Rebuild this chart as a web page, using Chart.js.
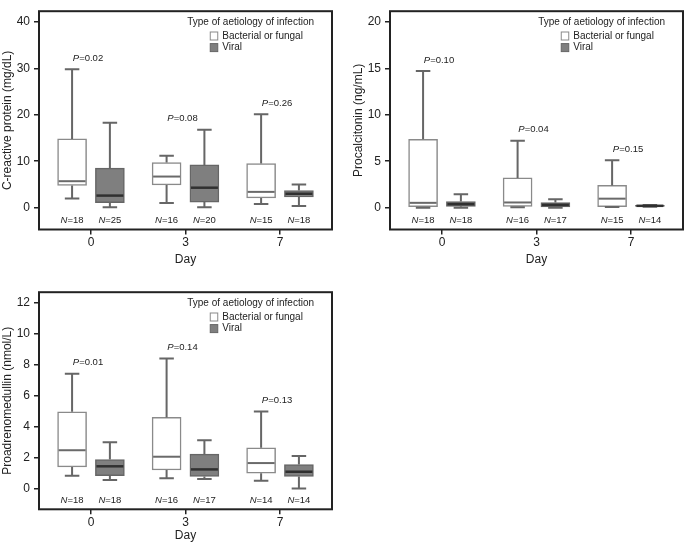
<!DOCTYPE html>
<html>
<head>
<meta charset="utf-8">
<script src="https://cdn.jsdelivr.net/npm/chart.js@4.4.1/dist/chart.umd.min.js"></script>
<style>
    body { margin: 0; background: #fff; }
    canvas { position: absolute; }
</style>
</head>
<body>
<canvas id="crpChart" width="342" height="270" style="left:0;top:0"></canvas>
<canvas id="pctChart" width="334" height="270" style="left:351px;top:0"></canvas>
<canvas id="admChart" width="342" height="265" style="left:0;top:281px"></canvas>
<script>
const days = ['0', '3', '7'];

// each box: [lower whisker, Q1, median, Q3, upper whisker], one per day
const crpBacterial = [[2.0, 4.8, 5.7, 14.8, 29.8], [1.0, 4.9, 6.7, 9.7, 11.2], [0.8, 2.1, 3.4, 9.5, 20.1]];
const crpViral = [[0.1, 1.1, 2.6, 8.5, 18.3], [0.1, 1.2, 4.3, 9.2, 16.8], [0.35, 2.3, 3.0, 3.7, 5.0]];
const crpBacterialN = [18, 16, 15];
const crpViralN = [25, 20, 18];
const crpP = ['0.02', '0.08', '0.26'];
const crpTicks = [0, 10, 20, 30, 40];

const pctBacterial = [[0.0, 0.1, 0.52, 7.36, 14.7], [0.05, 0.14, 0.56, 3.2, 7.2], [0.07, 0.1, 0.97, 2.4, 5.1]];
const pctViral = [[0.0, 0.14, 0.38, 0.66, 1.44], [0.0, 0.08, 0.3, 0.55, 0.9], [0.1, 0.13, 0.2, 0.25, 0.3]];
const pctBacterialN = [18, 16, 15];
const pctViralN = [18, 17, 14];
const pctP = ['0.10', '0.04', '0.15'];
const pctTicks = [0, 5, 10, 15, 20];

const admBacterial = [[0.83, 1.4, 2.48, 4.97, 7.43], [0.66, 1.2, 2.06, 4.6, 8.42], [0.5, 0.99, 1.65, 2.64, 4.99]];
const admViral = [[0.56, 0.83, 1.44, 1.88, 2.99], [0.62, 0.78, 1.24, 2.23, 3.12], [0.0, 0.78, 1.09, 1.55, 2.1]];
const admBacterialN = [18, 16, 14];
const admViralN = [18, 17, 14];
const admP = ['0.01', '0.14', '0.13'];
const admTicks = [0, 2, 4, 6, 8, 10, 12];

const FONT = "'Liberation Sans', Arial, Helvetica, sans-serif";
const TEXT = '#222';

function drawPN(ctx, prefix, rest, cx, cy, size) {
    // italic letter then plain "=value", centred on cx
    ctx.font = `italic ${size}px ${FONT}`;
    const w1 = ctx.measureText(prefix).width;
    ctx.font = `${size}px ${FONT}`;
    const w2 = ctx.measureText(rest).width;
    const left = cx - (w1 + w2) / 2;
    ctx.textAlign = 'left';
    ctx.textBaseline = 'middle';
    ctx.font = `italic ${size}px ${FONT}`;
    ctx.fillText(prefix, left, cy);
    ctx.font = `${size}px ${FONT}`;
    ctx.fillText(rest, left + w1, cy);
}

function makePanel(id, cfg) {
    const groups = [
        { label: 'Bacterial or fungal', stats: cfg.bacterial, n: cfg.bacterialN, offset: -0.2,
          fill: '#ffffff', border: '#8a8a8a', median: '#6a6a6a', medianWidth: 2 },
        { label: 'Viral', stats: cfg.viral, n: cfg.viralN, offset: 0.2,
          fill: '#7f7f7f', border: '#666666', median: '#303030', medianWidth: 2.5 }
    ];

    const extras = {
        id: 'boxExtras',
        afterDatasetsDraw(chart) {
            const { ctx, chartArea } = chart;
            const xs = chart.scales.x;
            const ys = chart.scales.y;
            const half = 29 / 2;
            ctx.save();

            groups.forEach(g => {
                g.stats.forEach((s, i) => {
                    const cx = xs.getPixelForValue(i + g.offset);
                    const [lo, q1, med, q3, hi] = s.map(v => ys.getPixelForValue(v));

                    // whiskers and caps
                    ctx.strokeStyle = '#666';
                    ctx.lineWidth = 2;
                    ctx.beginPath();
                    ctx.moveTo(cx, q3); ctx.lineTo(cx, hi);
                    ctx.moveTo(cx - half / 2, hi); ctx.lineTo(cx + half / 2, hi);
                    ctx.moveTo(cx, q1); ctx.lineTo(cx, lo);
                    ctx.moveTo(cx - half / 2, lo); ctx.lineTo(cx + half / 2, lo);
                    ctx.stroke();

                    // median
                    ctx.strokeStyle = g.median;
                    ctx.lineWidth = g.medianWidth;
                    ctx.beginPath();
                    ctx.moveTo(cx - half + 1, med); ctx.lineTo(cx + half - 1, med);
                    ctx.stroke();

                    // N under each box
                    ctx.fillStyle = TEXT;
                    drawPN(ctx, 'N', '=' + g.n[i], cx, chartArea.bottom - 9, 9.5);
                });
            });

            // P values above each day
            cfg.p.forEach((p, i) => {
                const top = Math.min(ys.getPixelForValue(groups[0].stats[i][4]), ys.getPixelForValue(groups[1].stats[i][4]));
                ctx.fillStyle = TEXT;
                drawPN(ctx, 'P', '=' + p, xs.getPixelForValue(i) - 3, top - 11, 9.5);
            });

            // legend
            const title = 'Type of aetiology of infection';
            ctx.font = `10px ${FONT}`;
            const tw = ctx.measureText(title).width;
            const tx = chartArea.right - 18 - tw;
            ctx.fillStyle = TEXT;
            ctx.textAlign = 'left';
            ctx.textBaseline = 'middle';
            ctx.fillText(title, tx, chartArea.top + 11);
            groups.forEach((g, k) => {
                const y = chartArea.top + 24.8 + k * 11.6;
                ctx.fillStyle = g.fill;
                ctx.fillRect(tx + 23, y - 4, 7.5, 8);
                ctx.strokeStyle = g.border;
                ctx.lineWidth = 1;
                ctx.strokeRect(tx + 23, y - 4, 7.5, 8);
                ctx.fillStyle = TEXT;
                ctx.fillText(g.label, tx + 35, y);
            });

            // frame
            ctx.strokeStyle = '#222';
            ctx.lineWidth = 2;
            ctx.strokeRect(chartArea.left, chartArea.top, chartArea.right - chartArea.left, chartArea.bottom - chartArea.top);
            ctx.restore();
        }
    };

    const datasets = groups.map(g => ({
        label: g.label,
        data: g.stats.map((s, i) => ({ x: i + g.offset, y: [s[1], s[3]] })),
        backgroundColor: g.fill,
        borderColor: g.border,
        borderWidth: 1.5,
        borderSkipped: false,
        barThickness: 29,
        grouped: false
    }));

    return new Chart(document.getElementById(id), {
        type: 'bar',
        data: { datasets },
        options: {
            responsive: false,
            animation: false,
            layout: { padding: cfg.padding },
            plugins: {
                legend: { display: false },
                tooltip: { enabled: false }
            },
            scales: {
                x: {
                    type: 'linear',
                    min: -0.55,
                    max: 2.55,
                    offset: false,
                    afterBuildTicks: s => { s.ticks = days.map((d, i) => ({ value: i })); },
                    afterFit: s => { s.height = cfg.xHeight; },
                    ticks: { callback: (v, i) => days[i], color: TEXT, font: { family: FONT, size: 12 }, padding: 1 },
                    grid: { offset: false, drawOnChartArea: false, tickLength: 5, color: '#222', lineWidth: 1.5 },
                    border: { display: false },
                    title: { display: true, text: 'Day', color: TEXT, font: { family: FONT, size: 12 }, padding: { top: 0, bottom: 3 } }
                },
                y: {
                    min: cfg.yMin,
                    max: cfg.yMax,
                    afterBuildTicks: s => { s.ticks = cfg.ticks.map(v => ({ value: v })); },
                    afterFit: s => { s.width = 39; },
                    ticks: { callback: v => v, color: TEXT, font: { family: FONT, size: 12 }, padding: 4 },
                    grid: { drawOnChartArea: false, tickLength: 5, color: '#222', lineWidth: 1.5 },
                    border: { display: false },
                    title: { display: true, text: cfg.yTitle, color: TEXT, font: { family: FONT, size: 12 }, padding: { top: 0, bottom: 0 } }
                }
            }
        },
        plugins: [extras]
    });
}

makePanel('crpChart', {
    bacterial: crpBacterial, viral: crpViral,
    bacterialN: crpBacterialN, viralN: crpViralN,
    p: crpP, ticks: crpTicks,
    yMin: -4.7, yMax: 42.3,
    yTitle: 'C-reactive protein (mg/dL)',
    padding: { top: 2, right: 10, left: 0, bottom: 0 },
    xHeight: 40.5
});

makePanel('pctChart', {
    bacterial: pctBacterial, viral: pctViral,
    bacterialN: pctBacterialN, viralN: pctViralN,
    p: pctP, ticks: pctTicks,
    yMin: -2.35, yMax: 21.15,
    yTitle: 'Procalcitonin (ng/mL)',
    padding: { top: 2, right: 2, left: 0, bottom: 0 },
    xHeight: 40.5
});

makePanel('admChart', {
    bacterial: admBacterial, viral: admViral,
    bacterialN: admBacterialN, viralN: admViralN,
    p: admP, ticks: admTicks,
    yMin: -1.34, yMax: 12.7,
    yTitle: 'Proadrenomedullin (nmol/L)',
    padding: { top: 2, right: 10, left: 0, bottom: 0 },
    xHeight: 36.7
});
</script>
</body>
</html>
